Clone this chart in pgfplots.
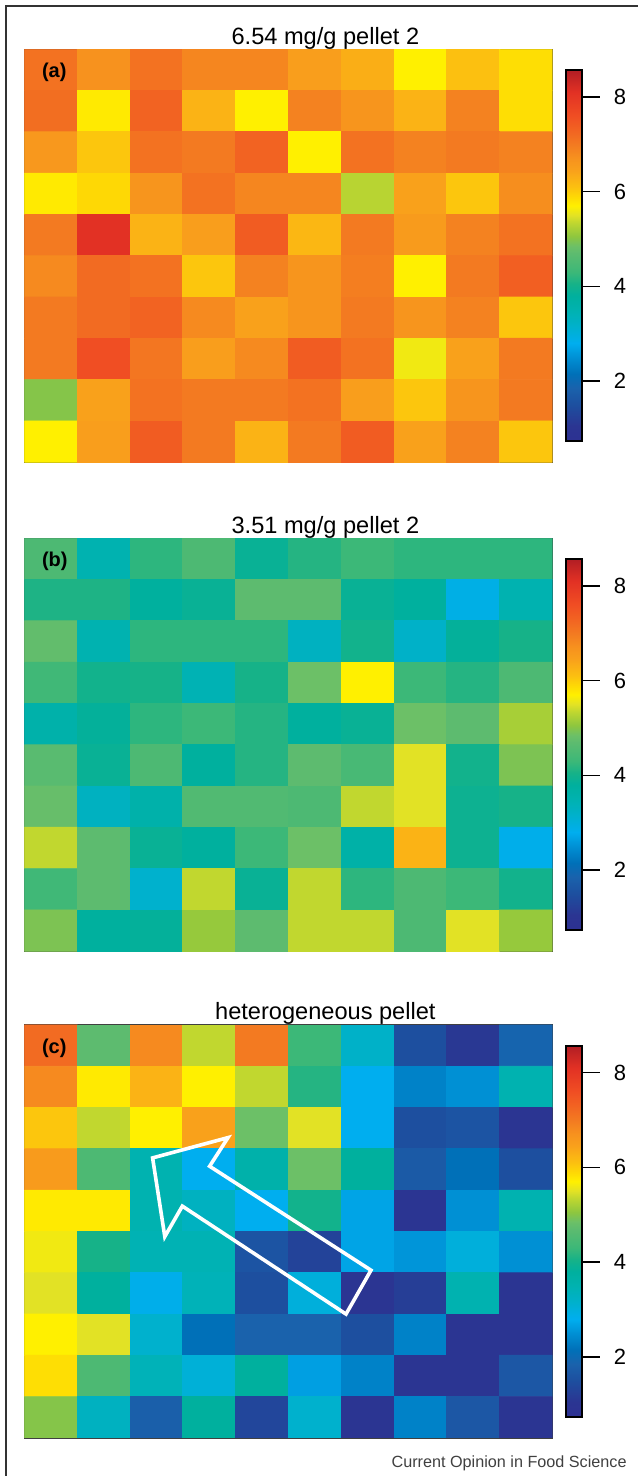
\documentclass[border=0pt]{standalone}
\usepackage{fontspec}
\setmainfont{Liberation Sans}
\usepackage{pgfplots}
\pgfplotsset{compat=1.18}

\pgfplotsset{
  colormap={pellet}{
    rgb255(0.73cm)=(45,49,146) rgb255(1.05cm)=(43,53,146) rgb255(1.5cm)=(29,79,159)
    rgb255(1.85cm)=(26,98,172) rgb255(2.15cm)=(0,112,184) rgb255(2.5cm)=(0,144,212)
    rgb255(2.8cm)=(0,174,239) rgb255(3.2cm)=(0,177,200) rgb255(3.5cm)=(0,178,176)
    rgb255(3.8cm)=(0,176,158) rgb255(4.05cm)=(22,178,136) rgb255(4.3cm)=(60,184,120)
    rgb255(4.7cm)=(93,187,111) rgb255(4.85cm)=(108,192,103) rgb255(5.05cm)=(141,198,63)
    rgb255(5.35cm)=(193,215,47) rgb255(5.5cm)=(226,226,37) rgb255(5.7cm)=(255,240,0)
    rgb255(5.9cm)=(254,216,5) rgb255(6.1cm)=(252,192,16) rgb255(6.45cm)=(249,161,27)
    rgb255(6.7cm)=(247,146,30) rgb255(7.0cm)=(243,122,33) rgb255(7.3cm)=(242,99,34)
    rgb255(7.6cm)=(240,78,35) rgb255(8.1cm)=(226,49,36) rgb255(8.56cm)=(178,30,36)
  },
  every axis title shift=0pt,
  panel/.style={
    at={#1}, anchor=north west,
    scale only axis, width=264pt, height=206.5pt,
    xmin=-0.5, xmax=9.5, ymin=-0.5, ymax=9.5,
    xtick=\empty, ytick=\empty,
    axis line style={line width=0.6pt, black!75},
    colormap name=pellet,
    point meta min=0.73, point meta max=8.56,
    title style={at={(0.57,1)}, anchor=base, yshift=2.5pt,
      font=\fontsize{11.8}{13}\selectfont},
    colorbar,
    colorbar shift/.style={xshift=6.7pt},
    colorbar style={
      at={(parent axis.north east)}, anchor=north west,
      yshift=-10.5pt,
      scale only axis, width=8.2pt, height=185.5pt,
      ytick={2,4,6,8}, ytick pos=right, yticklabel pos=right,
      ytick align=outside, tickwidth=8.8pt, major tick length=8.8pt,
      major tick style={line width=0.7pt, black},
      axis line style={line width=1pt, black},
      yticklabel style={font=\fontsize{11}{12}\selectfont, xshift=3.5pt,
        /pgf/number format/assume math mode=true},
    },
  },
}
\tikzset{plabel/.style={anchor=west, font=\bfseries\fontsize{10}{12}\selectfont,
    xshift=5.3pt, yshift=-11.6pt}}

\begin{document}
\begin{tikzpicture}
\useasboundingbox (0,0) rectangle (319pt,738pt);
\fill[white] (0,0) rectangle (319pt,738pt);
\draw[line width=0.75pt, black!80] (3pt,0) -- (3pt,735pt) -- (319pt,735pt);

% (a)
\begin{axis}[panel={(12.2pt,713.35pt)}, title={6.54 mg/g pellet 2}]
\addplot[matrix plot*, mesh/cols=10, point meta=\thisrow{c}] table[row sep=\\] {
x y c\\
0 9 7.1\\ 1 9 6.7\\ 2 9 7.1\\ 3 9 6.85\\ 4 9 6.85\\ 5 9 6.5\\ 6 9 6.3\\ 7 9 5.7\\ 8 9 6.1\\ 9 9 5.85\\
0 8 7.15\\ 1 8 5.75\\ 2 8 7.3\\ 3 8 6.25\\ 4 8 5.7\\ 5 8 6.9\\ 6 8 6.65\\ 7 8 6.25\\ 8 8 6.9\\ 9 8 5.85\\
0 7 6.6\\ 1 7 6.05\\ 2 7 7.1\\ 3 7 7.0\\ 4 7 7.3\\ 5 7 5.7\\ 6 7 7.1\\ 7 7 6.9\\ 8 7 7.0\\ 9 7 6.9\\
0 6 5.75\\ 1 6 5.9\\ 2 6 6.65\\ 3 6 7.1\\ 4 6 6.85\\ 5 6 6.85\\ 6 6 5.3\\ 7 6 6.45\\ 8 6 6.05\\ 9 6 6.75\\
0 5 7.0\\ 1 5 8.1\\ 2 5 6.25\\ 3 5 6.5\\ 4 5 7.4\\ 5 5 6.2\\ 6 5 7.0\\ 7 5 6.55\\ 8 5 6.9\\ 9 5 7.1\\
0 4 6.8\\ 1 4 7.2\\ 2 4 7.1\\ 3 4 6.05\\ 4 4 6.9\\ 5 4 6.65\\ 6 4 6.95\\ 7 4 5.7\\ 8 4 7.0\\ 9 4 7.35\\
0 3 7.0\\ 1 3 7.2\\ 2 3 7.3\\ 3 3 6.8\\ 4 3 6.45\\ 5 3 6.65\\ 6 3 7.0\\ 7 3 6.65\\ 8 3 6.9\\ 9 3 6.05\\
0 2 7.0\\ 1 2 7.6\\ 2 2 7.05\\ 3 2 6.5\\ 4 2 6.8\\ 5 2 7.4\\ 6 2 7.1\\ 7 2 5.6\\ 8 2 6.45\\ 9 2 7.0\\
0 1 5.0\\ 1 1 6.45\\ 2 1 7.1\\ 3 1 7.0\\ 4 1 7.0\\ 5 1 7.1\\ 6 1 6.5\\ 7 1 6.05\\ 8 1 6.65\\ 9 1 7.0\\
0 0 5.7\\ 1 0 6.5\\ 2 0 7.4\\ 3 0 7.0\\ 4 0 6.25\\ 5 0 7.0\\ 6 0 7.4\\ 7 0 6.45\\ 8 0 6.9\\ 9 0 6.05\\
};
\node[plabel] at (rel axis cs:0,1) {(a)};
\end{axis}

% (b)
\begin{axis}[panel={(12.2pt,468.85pt)}, title={3.51 mg/g pellet 2}]
\addplot[matrix plot*, mesh/cols=10, point meta=\thisrow{c}] table[row sep=\\] {
x y c\\
0 9 4.5\\ 1 9 3.5\\ 2 9 4.2\\ 3 9 4.5\\ 4 9 3.9\\ 5 9 4.15\\ 6 9 4.3\\ 7 9 4.2\\ 8 9 4.2\\ 9 9 4.2\\
0 8 4.1\\ 1 8 4.1\\ 2 8 3.8\\ 3 8 3.9\\ 4 8 4.7\\ 5 8 4.7\\ 6 8 3.9\\ 7 8 3.8\\ 8 8 2.9\\ 9 8 3.5\\
0 7 4.75\\ 1 7 3.5\\ 2 7 4.2\\ 3 7 4.2\\ 4 7 4.2\\ 5 7 3.3\\ 6 7 4.0\\ 7 7 3.2\\ 8 7 3.85\\ 9 7 4.05\\
0 6 4.35\\ 1 6 4.0\\ 2 6 4.05\\ 3 6 3.45\\ 4 6 4.05\\ 5 6 4.85\\ 6 6 5.7\\ 7 6 4.3\\ 8 6 4.15\\ 9 6 4.5\\
0 5 3.6\\ 1 5 3.85\\ 2 5 4.2\\ 3 5 4.3\\ 4 5 4.15\\ 5 5 3.8\\ 6 5 3.9\\ 7 5 4.85\\ 8 5 4.7\\ 9 5 5.2\\
0 4 4.65\\ 1 4 3.9\\ 2 4 4.5\\ 3 4 3.8\\ 4 4 4.15\\ 5 4 4.7\\ 6 4 4.45\\ 7 4 5.5\\ 8 4 4.0\\ 9 4 4.95\\
0 3 4.8\\ 1 3 3.3\\ 2 3 3.6\\ 3 3 4.55\\ 4 3 4.55\\ 5 3 4.5\\ 6 3 5.35\\ 7 3 5.5\\ 8 3 3.95\\ 9 3 4.05\\
0 2 5.35\\ 1 2 4.7\\ 2 2 3.9\\ 3 2 3.8\\ 4 2 4.3\\ 5 2 4.85\\ 6 2 3.65\\ 7 2 6.25\\ 8 2 3.95\\ 9 2 2.85\\
0 1 4.35\\ 1 1 4.7\\ 2 1 3.15\\ 3 1 5.35\\ 4 1 3.9\\ 5 1 5.35\\ 6 1 4.2\\ 7 1 4.5\\ 8 1 4.3\\ 9 1 4.0\\
0 0 4.95\\ 1 0 3.8\\ 2 0 3.85\\ 3 0 5.1\\ 4 0 4.7\\ 5 0 5.35\\ 6 0 5.35\\ 7 0 4.5\\ 8 0 5.5\\ 9 0 5.1\\
};
\node[plabel] at (rel axis cs:0,1) {(b)};
\end{axis}

% (c)
\begin{axis}[panel={(12.2pt,225.5pt)}, title={heterogeneous pellet}]
\addplot[matrix plot*, mesh/cols=10, point meta=\thisrow{c}] table[row sep=\\] {
x y c\\
0 9 7.2\\ 1 9 4.7\\ 2 9 6.8\\ 3 9 5.35\\ 4 9 7.0\\ 5 9 4.3\\ 6 9 3.2\\ 7 9 1.5\\ 8 9 1.1\\ 9 9 1.9\\
0 8 6.8\\ 1 8 5.75\\ 2 8 6.25\\ 3 8 5.7\\ 4 8 5.35\\ 5 8 4.15\\ 6 8 2.8\\ 7 8 2.35\\ 8 8 2.5\\ 9 8 3.5\\
0 7 6.05\\ 1 7 5.35\\ 2 7 5.7\\ 3 7 6.45\\ 4 7 4.85\\ 5 7 5.5\\ 6 7 2.8\\ 7 7 1.5\\ 8 7 1.6\\ 9 7 1.05\\
0 6 6.55\\ 1 6 4.5\\ 2 6 3.5\\ 3 6 2.8\\ 4 6 3.6\\ 5 6 4.85\\ 6 6 3.8\\ 7 6 1.7\\ 8 6 2.15\\ 9 6 1.5\\
0 5 5.75\\ 1 5 5.75\\ 2 5 3.5\\ 3 5 3.3\\ 4 5 2.8\\ 5 5 4.0\\ 6 5 2.7\\ 7 5 1.05\\ 8 5 2.5\\ 9 5 3.5\\
0 4 5.6\\ 1 4 4.05\\ 2 4 3.45\\ 3 4 3.45\\ 4 4 1.6\\ 5 4 1.3\\ 6 4 2.7\\ 7 4 2.55\\ 8 4 3.0\\ 9 4 2.5\\
0 3 5.5\\ 1 3 3.8\\ 2 3 2.85\\ 3 3 3.4\\ 4 3 1.5\\ 5 3 3.0\\ 6 3 1.05\\ 7 3 1.2\\ 8 3 3.5\\ 9 3 1.05\\
0 2 5.7\\ 1 2 5.5\\ 2 2 3.15\\ 3 2 2.15\\ 4 2 1.85\\ 5 2 1.85\\ 6 2 1.5\\ 7 2 2.35\\ 8 2 1.05\\ 9 2 1.05\\
0 1 5.85\\ 1 1 4.5\\ 2 1 3.4\\ 3 1 3.05\\ 4 1 3.8\\ 5 1 2.65\\ 6 1 2.35\\ 7 1 1.05\\ 8 1 1.05\\ 9 1 1.65\\
0 0 5.0\\ 1 0 3.3\\ 2 0 1.8\\ 3 0 3.8\\ 4 0 1.35\\ 5 0 3.15\\ 6 0 1.05\\ 7 0 2.35\\ 8 0 1.65\\ 9 0 1.05\\
};
% white outline arrow
\addplot[white, line width=1.8pt, line join=miter, mark=none] coordinates {
(1.928,6.282) (3.356,6.773) (3.008,6.080) (6.064,3.562) (5.591,2.5)
(2.491,5.114) (2.159,4.376) (1.928,6.282) (3.356,6.773)};
\node[plabel] at (rel axis cs:0,1) {(c)};
\end{axis}

\node[anchor=base east, inner sep=0pt, text=black!75, font=\fontsize{8.1}{10}\selectfont]
  at (313.5pt,4.35pt) {Current Opinion in Food Science};
\end{tikzpicture}
\end{document}
